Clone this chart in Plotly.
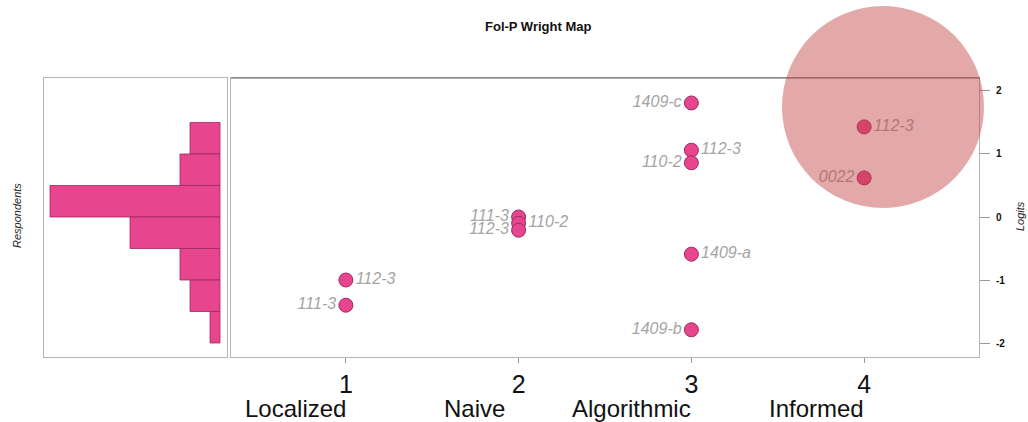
import plotly.graph_objects as go

W, H = 1028, 422

# Respondent distribution (counts per 0.5-logit bin)
bin_centers = [1.25, 0.75, 0.25, -0.25, -0.75, -1.25, -1.75]
bin_counts = [3, 4, 17, 9, 4, 3, 1]

# Item locations on the progression levels
levels = [1, 2, 3, 4]
level_names = ["Localized", "Naive", "Algorithmic", "Informed"]
item_level = [1, 1, 2, 2, 2, 3, 3, 3, 3, 3, 4, 4]
item_logit = [-1.0, -1.4, 0.0, -0.1, -0.21, 1.81, 1.06, 0.86, -0.59, -1.79, 1.43, 0.62]
item_name = ["112-3", "111-3", "111-3", "110-2", "112-3", "1409-c", "112-3", "110-2",
             "1409-a", "1409-b", "112-3", "0022"]
item_side = ["right", "left", "left", "right", "left", "left", "right", "left",
             "right", "left", "right", "left"]

Y_RANGE = [-2.222, 2.206]
PINK = "#E8458F"
EDGE = "#9c2a60"
LABEL_GREY = "#a4a4a4"
FRAME = "#b4b4b4"
NARROW = "Liberation Sans Narrow, Arial Narrow, Liberation Sans, Arial, sans-serif"
SANS = "Liberation Sans, Arial, sans-serif"


def px_x(p):
    return p / W


def px_y(p):
    return 1 - p / H


fig = go.Figure()

fig.add_trace(go.Bar(
    x=bin_counts, y=bin_centers, orientation="h", width=0.5,
    marker=dict(color=PINK, line=dict(color=EDGE, width=0.8)),
    xaxis="x", yaxis="y", showlegend=False, hoverinfo="skip",
))

fig.add_trace(go.Scatter(
    x=item_level, y=item_logit, mode="markers+text",
    text=item_name,
    textposition=["middle " + s for s in item_side],
    textfont=dict(family=SANS, size=16, color=LABEL_GREY, style="italic"),
    marker=dict(size=14, color=PINK, line=dict(color=EDGE, width=1)),
    xaxis="x2", yaxis="y2", showlegend=False, cliponaxis=False,
))

dom_y = [px_y(357), px_y(78)]

fig.update_layout(
    width=W, height=H,
    margin=dict(l=0, r=0, t=0, b=0),
    paper_bgcolor="white", plot_bgcolor="white",
    xaxis=dict(domain=[px_x(44), px_x(227)], range=[17.6, -0.7],
               showgrid=False, zeroline=False, showticklabels=False, ticks="",
               showline=True, mirror=True, linecolor=FRAME, linewidth=1),
    yaxis=dict(domain=dom_y, range=Y_RANGE, anchor="x",
               showgrid=False, zeroline=False, showticklabels=False, ticks="",
               showline=True, mirror=True, linecolor=FRAME, linewidth=1),
    xaxis2=dict(domain=[px_x(231), px_x(979)], range=[0.335, 4.665], anchor="y2",
                tickvals=levels, ticktext=[str(v) for v in levels],
                ticks="outside", ticklen=5, tickcolor="#999", tickwidth=1,
                tickfont=dict(family=NARROW, size=25, color="#111"),
                showgrid=False, zeroline=False,
                showline=True, mirror=True, linecolor=FRAME, linewidth=1),
    yaxis2=dict(domain=dom_y, range=Y_RANGE, anchor="x2", side="right",
                tickvals=[-2, -1, 0, 1, 2], ticktext=["-2", "-1", "0", "1", "2"],
                ticks="outside", ticklen=10, tickcolor="#999", tickwidth=1,
                ticklabelstandoff=4,
                tickfont=dict(family=SANS, size=10, color="#111", weight="bold"),
                showgrid=False, zeroline=False,
                showline=True, mirror=True, linecolor=FRAME, linewidth=1),
)

# darker top edge of the map panel
fig.add_shape(type="line", xref="paper", yref="paper",
              x0=px_x(231), x1=px_x(980), y0=px_y(78), y1=px_y(78),
              line=dict(color="#606060", width=1), layer="above")

annotations = [
    dict(text="<b>Fol-P Wright Map</b>", x=px_x(538), y=px_y(27),
         font=dict(family=SANS, size=13, color="#111")),
    dict(text="<i>Respondents</i>", x=px_x(17), y=px_y(216), textangle=-90,
         font=dict(family=SANS, size=11, color="#222")),
    dict(text="<i>Logits</i>", x=px_x(1020), y=px_y(216), textangle=-90,
         font=dict(family=SANS, size=11, color="#222")),
]
for a in annotations:
    a.update(xref="paper", yref="paper", showarrow=False, xanchor="center", yanchor="middle")
    fig.add_annotation(**a)

# level names beneath the tick numbers
name_shift = [0, -14, 0, 0]
for lv, nm, sh in zip(levels, level_names, name_shift):
    fig.add_annotation(
        text=nm, x=lv, y=px_y(408), xref="x2", yref="paper",
        xanchor="right", yanchor="middle", xshift=sh + 2, showarrow=False,
        font=dict(family=NARROW, size=24, color="#111"),
    )

# highlight around the Informed items
fig.add_shape(type="circle", xref="paper", yref="paper",
              xsizemode="pixel", ysizemode="pixel",
              xanchor=px_x(883), yanchor=px_y(107),
              x0=-101, x1=101, y0=-101, y1=101,
              fillcolor="rgba(192,64,64,0.45)", line=dict(width=0), layer="above")

fig.write_html("out.html")
